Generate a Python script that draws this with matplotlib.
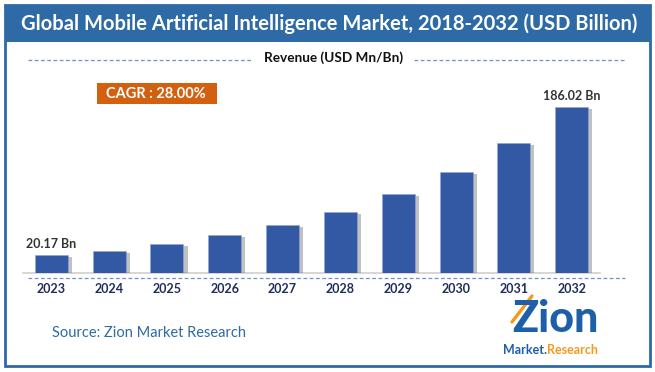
import matplotlib
matplotlib.use("Agg")
import matplotlib.pyplot as plt
from matplotlib.patches import Rectangle
import matplotlib.patheffects as pe

years = ["2023", "2024", "2025", "2026", "2027", "2028", "2029", "2030", "2031", "2032"]
revenue = [20.17, 25.0, 32.8, 42.2, 53.4, 68.7, 88.2, 112.8, 145.7, 186.02]
labels = {0: "20.17 Bn", 9: "186.02 Bn"}
title = "Global Mobile Artificial Intelligence Market, 2018-2032 (USD Billion)"
subtitle = "Revenue (USD Mn/Bn)"
cagr = "CAGR : 28.00%"
source = "Source: Zion Market Research"

W, H = 655, 372
fig = plt.figure(figsize=(W / 100, H / 100), dpi=100)
fig.patch.set_facecolor("white")

FONT = "Lato"
BLUE = "#2e6aa6"
BAR = "#3358a4"
NAVY = "#1f2d5a"

# overlay in pixel coords (y down)
ov = fig.add_axes([0, 0, 1, 1])
ov.set_xlim(0, W)
ov.set_ylim(H, 0)
ov.axis("off")

ov.add_patch(Rectangle((5, 5), 645, 37, facecolor=BLUE, edgecolor="none"))
ov.add_patch(Rectangle((5, 5), 645, 361, facecolor="none", edgecolor=BLUE, lw=2))
ov.text(329, 24, title, color="white", fontsize=14.5, fontweight="bold",
        family=FONT, ha="center", va="center")

ov.text(334, 58, subtitle, color="#111111", fontsize=9.8, family=FONT,
        fontweight="bold", ha="center", va="center")
ov.plot([28, 252], [60, 60], ls=(0, (3, 2)), color="#6f8fcf", lw=0.9)
ov.plot([414, 625], [60, 60], ls=(0, (3, 2)), color="#6f8fcf", lw=0.9)

ov.add_patch(Rectangle((97, 83), 120, 21, facecolor="#d2600f", edgecolor="none"))
ov.text(156, 94, cagr, color="white", fontsize=10.5, fontweight="bold",
        family=FONT, ha="center", va="center")

ov.plot([28, 625], [278, 278], ls=(0, (3, 2)), color="#6f8fcf", lw=0.9)

ov.text(52, 333, source, color=BLUE, fontsize=10.5, family=FONT,
        ha="left", va="center")

# logo approximation
ov.text(555, 319, "Zion", color="#1d5fa8", fontsize=31, fontweight="black",
        family=FONT, ha="center", va="center")
ov.plot([512, 532], [322, 296], color="#f29a1f", lw=2.4, solid_capstyle="round")
ov.text(547, 350, "Market.", color="#1d5fa8", fontsize=9, fontweight="bold",
        family=FONT, ha="right", va="center")
ov.text(547, 350, "Research", color="#f29a1f", fontsize=9, fontweight="bold",
        family=FONT, ha="left", va="center")

# bar chart axes: baseline at pixel y 273, x from 23 to 600
ax = fig.add_axes([23 / W, (H - 273) / H, (600 - 23) / W, 173 / H])
ax.set_facecolor("none")
x = list(range(len(years)))
bars = ax.bar(x, revenue, width=0.57, color=BAR, edgecolor="#8fa6d6", lw=0.4, zorder=3)
for b in bars:
    b.set_path_effects([pe.SimplePatchShadow(offset=(3, -1.5), shadow_rgbFace="#777777", alpha=0.45),
                        pe.Normal()])
ax.set_xlim(-0.49, 9.49)
ax.set_ylim(0, 193.8)
for i, t in labels.items():
    ax.text(x[i], revenue[i] + 6, t, color="#333333",
            fontsize=9, fontweight="bold", family=FONT, ha="center", va="bottom")
for s in ["top", "right", "left"]:
    ax.spines[s].set_visible(False)
ax.spines["bottom"].set_color("#d0d0d0")
ax.spines["bottom"].set_linewidth(1.2)
ax.set_yticks([])
ax.set_xticks(x)
ax.set_xticklabels(years, fontsize=9, fontweight="bold", family=FONT, color=NAVY)
ax.tick_params(axis="x", length=0, pad=7)

fig.savefig("out.png", dpi=100, facecolor="white")
